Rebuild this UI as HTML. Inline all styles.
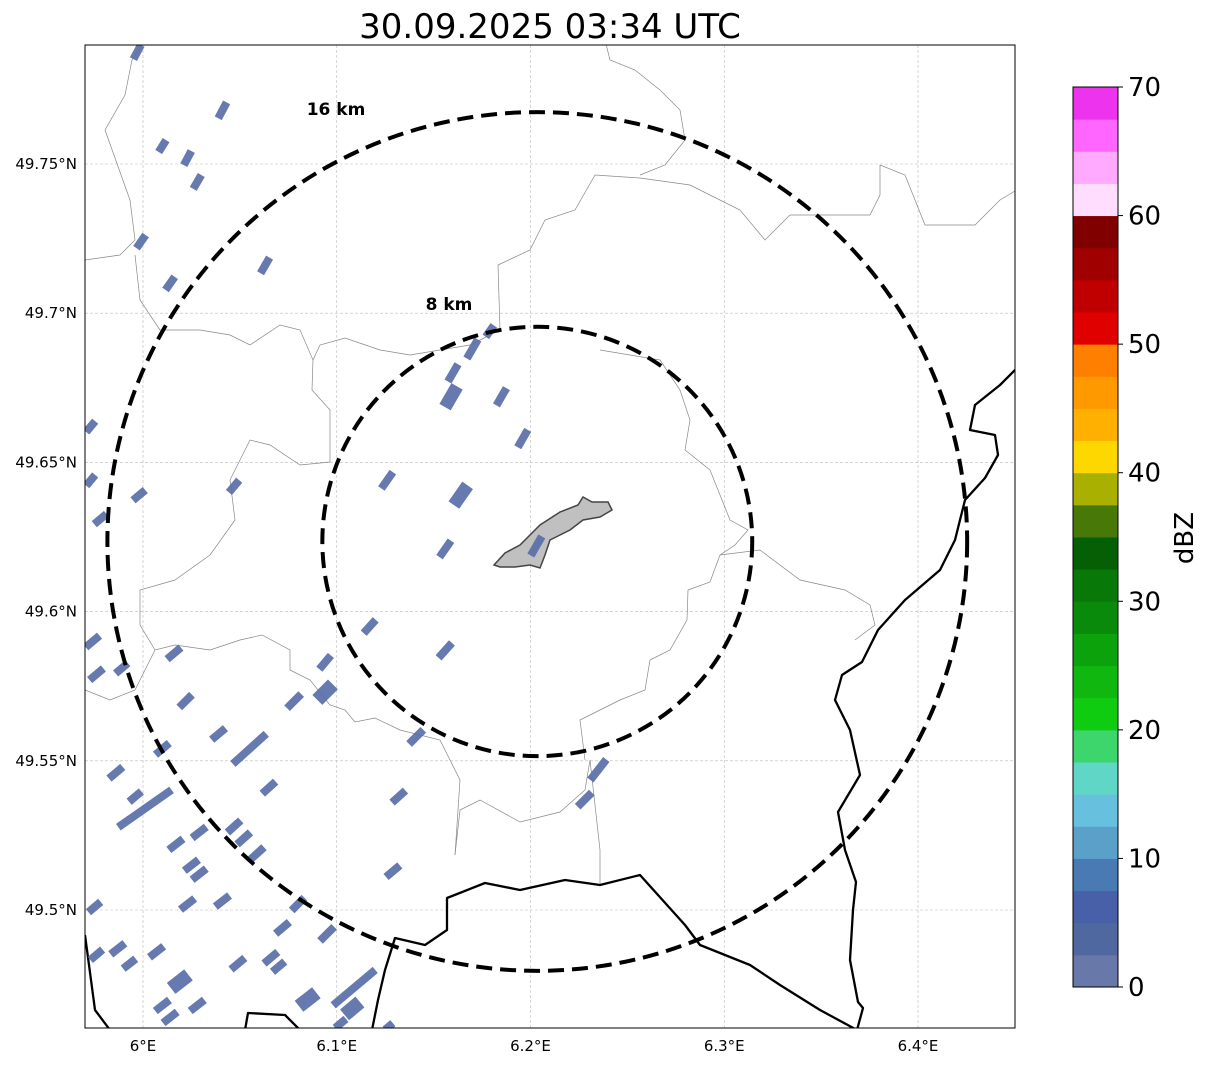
<!DOCTYPE html>
<html><head><meta charset="utf-8"><style>
body{margin:0;background:#fff;width:1207px;height:1064px;overflow:hidden;font-family:"Liberation Sans","DejaVu Sans",sans-serif}
</style></head><body>
<svg id="chart" width="1207" height="1064" xmlns="http://www.w3.org/2000/svg" font-family="'DejaVu Sans','Liberation Sans',sans-serif">
<text x="550" y="38" font-size="34" text-anchor="middle">30.09.2025 03:34 UTC</text>
<defs><clipPath id="mapclip"><rect x="85" y="45" width="930" height="983"/></clipPath></defs>
<g id="map" clip-path="url(#mapclip)"></g>
<rect x="85" y="45" width="930" height="983" fill="none" stroke="#000" stroke-width="1"/>
<g id="axes"></g>
<g id="cbar"></g>
<text x="1193" y="538" font-size="26" text-anchor="middle" transform="rotate(-90 1193 538)">dBZ</text>
</svg>
<script>
const lonTicks=[6.0,6.1,6.2,6.3,6.4];
const lonLabels=["6°E","6.1°E","6.2°E","6.3°E","6.4°E"];
const latTicks=[49.5,49.55,49.6,49.65,49.7,49.75];
const latLabels=["49.5°N","49.55°N","49.6°N","49.65°N","49.7°N","49.75°N"];
const echoLon=[5.997,6.041,6.010,6.023,6.028,5.999,6.014,6.063,6.179,6.170,6.160,6.159,6.185,6.196,6.126,6.164,6.156,6.203,6.117,6.156,5.973,5.973,5.978,5.998,6.047,5.974,5.976,5.989,6.016,6.022,6.039,6.055,6.010,5.986,5.996,6.001,6.065,6.017,6.029,6.047,6.052,6.059,6.025,6.029,6.023,6.041,5.975,6.080,6.072,6.095,5.976,5.987,5.993,6.007,6.049,6.066,6.070,6.019,6.010,6.014,6.028,6.085,6.109,6.108,6.094,6.094,6.078,6.132,6.129,6.102,6.141,6.235,6.228,6.127];
const echoLat=[49.7875,49.768,49.756,49.752,49.744,49.724,49.710,49.716,49.694,49.688,49.680,49.672,49.672,49.658,49.644,49.639,49.621,49.622,49.595,49.587,49.662,49.644,49.631,49.639,49.642,49.590,49.579,49.581,49.586,49.570,49.559,49.554,49.554,49.546,49.538,49.534,49.541,49.522,49.526,49.528,49.524,49.519,49.515,49.512,49.502,49.503,49.501,49.502,49.494,49.492,49.485,49.487,49.482,49.486,49.482,49.484,49.481,49.476,49.468,49.464,49.468,49.470,49.474,49.467,49.583,49.573,49.570,49.538,49.513,49.462,49.558,49.547,49.537,49.461];
const echoLen=[16,18,14,16,16,16,16,18,14,22,20,24,20,20,20,24,20,22,18,20,14,14,16,16,16,18,18,16,18,18,18,45,18,18,16,65,18,18,18,18,18,18,18,18,18,18,16,18,18,20,16,18,16,18,18,18,16,22,18,18,18,22,55,20,18,22,20,18,18,14,20,26,20,10];
const echoAng=[62,62,58,62,60,55,55,60,55,60,60,60,60,60,55,55,55,60,48,48,50,50,40,40,50,40,40,40,40,45,40,42,40,40,40,35,42,38,38,42,42,42,38,38,38,38,40,45,40,45,40,38,38,38,40,40,40,38,38,38,38,38,40,40,50,45,45,42,40,40,45,52,45,40];
const echoWid=[8,8,8,8,8,8,8,8,8,8,8,13,8,8,8,13,8,8,8,8,8,8,8,8,8,8,8,8,8,8,8,8,8,8,8,8,8,8,8,8,8,8,8,8,8,8,8,8,8,8,8,8,8,8,8,8,8,14,8,8,8,14,8,14,8,14,8,8,8,8,8,8,8,8];
const cbColors=["#6878a8","#5068a0","#4860a8","#4a7ab4","#5aa0c8","#66c0de","#60d6c6","#3cd66c","#10cc10","#0fb70f","#0ca20c","#0a8a0a","#087808","#056005","#487808","#aab000","#ffd700","#ffb000","#ff9900","#ff8000","#e00000","#c00000","#a00000","#800000","#ffddff","#ffaaff","#ff66ff","#ee33ee"];
const cbTicks=[0,10,20,30,40,50,60,70];
const ring8Km=8, ring16Km=16;
const radarLon=6.2035, radarLat=49.6235;

const NS="http://www.w3.org/2000/svg";
const X=lon=>143+(lon-6)*1937.5;
const Y=lat=>164+(49.75-lat)*2984;
function mk(tag,attrs,parent){const e=document.createElementNS(NS,tag);for(const k in attrs)e.setAttribute(k,attrs[k]);parent.appendChild(e);return e;}
const map=document.getElementById('map'),axes=document.getElementById('axes'),cbar=document.getElementById('cbar');

lonTicks.forEach((v,i)=>{const l=mk('line',{x1:X(v),x2:X(v),y1:45,y2:1028,stroke:'#bbb','stroke-width':0.6,'stroke-dasharray':'3,2'},map);

const t=mk('text',{x:X(v),y:1051,'font-size':15,'text-anchor':'middle'},axes);t.textContent=lonLabels[i];
});
latTicks.forEach((v,i)=>{const l=mk('line',{x1:85,x2:1015,y1:Y(v),y2:Y(v),stroke:'#bbb','stroke-width':0.6,'stroke-dasharray':'3,2'},map);

const t=mk('text',{x:77,y:Y(v)+5,'font-size':15,'text-anchor':'end'},axes);t.textContent=latLabels[i];
});

const thin=[
"85,260 120,255 135,240 130,200 105,130 125,95 132,60 145,40",
"135,255 140,300 160,330 200,330 230,335 250,345 280,325 300,330 313,360",
"313,360 320,345 345,338 380,350 410,355 440,350 470,345 500,330 498,265 530,250 545,220 575,210 595,175 640,178 690,185 740,210 765,240 790,215 870,215 880,195 880,165 905,175 925,225 975,225 1000,200 1020,188",
"313,360 312,390 330,410 330,462 300,465 270,445 250,440 230,480 235,520 210,555 175,580 140,590 140,625 155,650 175,645 210,650 240,640 262,635 290,650 290,670 310,680 330,705 345,710 355,722 375,718 400,730 440,740 460,780 455,855",
"85,690 110,700 135,690 150,660 155,650",
"600,350 660,360 680,390 690,420 685,450 710,470 730,520 748,530 735,545 720,555 710,582 688,590 687,620 670,650 650,660 645,690 620,700 580,720 585,760",
"720,555 760,550 800,580 845,590 870,605 875,625 855,640",
"455,855 460,810 480,800 520,822 560,812 585,790 590,760 600,850 600,885",
"605,40 610,60 635,70 660,90 680,110 685,140 665,165 640,175"];
thin.forEach(p=>{const e=mk('polyline',{points:p,fill:'none',stroke:'#888','stroke-width':0.7},map);
});
const thick=[
"1020,365 1000,385 975,405 970,430 995,435 998,455 985,478 965,500 955,540 940,570 905,600 878,630 862,662 842,675 835,700 850,730 860,775 838,812 845,850 856,882 853,910 850,960 858,1002 863,1008 857,1030",
"857,1030 820,1010 780,985 750,965 700,945 685,925 640,875 600,885 565,880 520,890 485,883 447,898 447,930 425,945 395,938 385,970 378,1000 372,1030",
"85,935 95,1010 110,1030",
"245,1030 248,1013 285,1015 300,1030"];
thick.forEach(p=>{const e=mk('polyline',{points:p,fill:'none',stroke:'#000','stroke-width':2.3,'stroke-linejoin':'round'},map);
});

const city=mk('polygon',{points:"494,565 505,553 520,545 530,535 540,525 560,512 578,505 583,497 592,502 608,502 612,510 600,517 583,520 570,530 560,535 550,540 545,555 540,568 530,565 515,567 500,567",fill:'#c0c0c0',stroke:'#444','stroke-width':1.5},map);


echoLon.forEach((lo,i)=>{const cx=X(lo),cy=Y(echoLat[i]),a=echoAng[i]*Math.PI/180,h=echoLen[i]/2;
const dx=Math.cos(a)*h,dy=Math.sin(a)*h;
const e=mk('line',{x1:cx-dx,y1:cy+dy,x2:cx+dx,y2:cy-dy,stroke:'#5a6fa8','stroke-opacity':0.92,'stroke-width':echoWid[i]},map);
});

const cx=X(radarLon),cy=Y(radarLat);
[ring16Km,ring8Km].forEach(km=>{const rx=km*1937.5/(111.32*Math.cos(radarLat*Math.PI/180)),ry=km*2984/111.2;
const e=mk('ellipse',{cx:cx,cy:cy,rx:rx,ry:ry,fill:'none',stroke:'#000','stroke-width':4,'stroke-dasharray':'16,8'},map);

const t=mk('text',{x:km==16?336:449,y:km==16?115:310,'font-size':17,'font-weight':'bold','text-anchor':'middle'},map);
t.textContent=km+' km';
});

const cbTop=87,cbBot=987,cbX=1073,cbW=45,bh=(cbBot-cbTop)/cbColors.length;
cbColors.forEach((c,i)=>{const e=mk('rect',{x:cbX,y:cbBot-(i+1)*bh,width:cbW,height:bh+0.5,fill:c},cbar);
});
mk('rect',{x:cbX,y:cbTop,width:cbW,height:cbBot-cbTop,fill:'none',stroke:'#000','stroke-width':1},cbar);
cbTicks.forEach(v=>{const y=cbBot-(v/70)*(cbBot-cbTop);
mk('line',{x1:cbX+cbW,x2:cbX+cbW+5,y1:y,y2:y,stroke:'#000'},cbar);
const t=mk('text',{x:1128,y:y+9,'font-size':26},cbar);t.textContent=v;
});
</script>
</body></html>
